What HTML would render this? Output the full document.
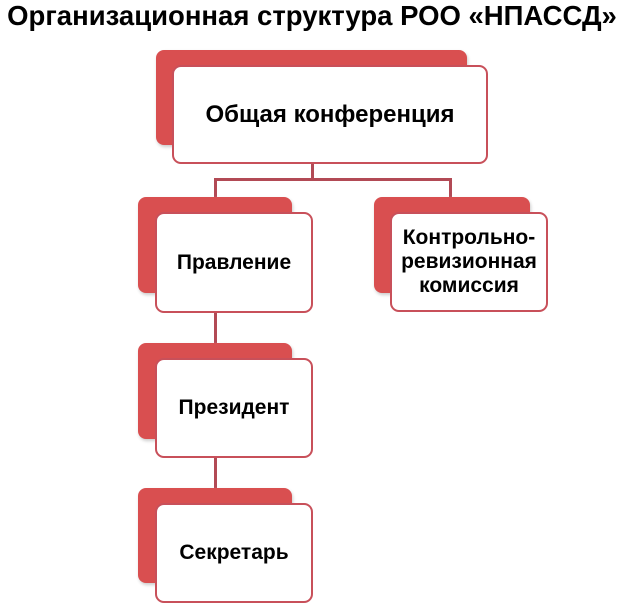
<!DOCTYPE html>
<html><head><meta charset="utf-8"><style>
body{margin:0;width:624px;height:616px;background:#fff;position:relative;overflow:hidden;font-family:"Liberation Sans",sans-serif;}
.t{position:absolute;left:0;width:624px;top:0px;text-align:center;font-weight:bold;font-size:27.5px;color:#000;white-space:nowrap;}
.r{position:absolute;background:#d94f50;border-radius:8px;box-shadow:1px 2px 3px #ccc;}
.w{position:absolute;background:#fff;border:2.5px solid #c8505a;border-radius:9px;box-sizing:border-box;display:flex;align-items:center;justify-content:center;text-align:center;font-weight:bold;font-size:21px;color:#000;line-height:24px;}
.l{position:absolute;background:#b24a55;}
</style></head><body>
<div class="t">Организационная структура РОО «НПАССД»</div>

<div class="r" style="left:156px;top:50px;width:311px;height:95px"></div>
<div class="w" style="left:172px;top:65px;width:316px;height:99px;font-size:24px">Общая конференция</div>

<div class="l" style="left:311px;top:164px;width:3px;height:16px"></div>
<div class="l" style="left:214px;top:178px;width:238px;height:3px"></div>
<div class="l" style="left:214px;top:178px;width:3px;height:20px"></div>
<div class="l" style="left:449px;top:178px;width:3px;height:20px"></div>

<div class="r" style="left:138px;top:197px;width:154px;height:96px"></div>
<div class="w" style="left:155px;top:212px;width:158px;height:101px">Правление</div>

<div class="r" style="left:374px;top:197px;width:156px;height:96px"></div>
<div class="w" style="left:390px;top:212px;width:158px;height:100px">Контрольно-<br>ревизионная<br>комиссия</div>

<div class="l" style="left:214px;top:313px;width:3px;height:45px"></div>
<div class="r" style="left:138px;top:343px;width:154px;height:96px"></div>
<div class="w" style="left:155px;top:358px;width:158px;height:100px">Президент</div>

<div class="l" style="left:214px;top:458px;width:3px;height:46px"></div>
<div class="r" style="left:138px;top:488px;width:154px;height:95px"></div>
<div class="w" style="left:155px;top:503px;width:158px;height:100px">Секретарь</div>
</body></html>
